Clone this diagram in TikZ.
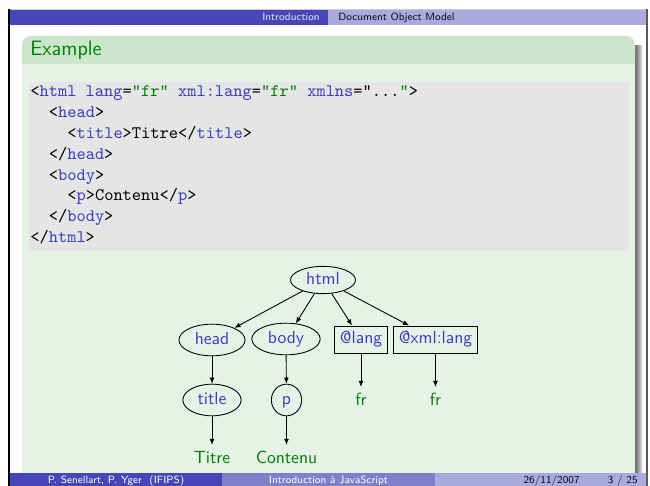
\documentclass[tikz,border=0pt]{standalone}
\usepackage{fontspec}
\usepackage{tikz}
\usetikzlibrary{
	shapes.geometric,
	arrows.meta
}
\definecolor{oscuro}{RGB}{70,70,184}
\definecolor{medio}{RGB}{127,127,204}
\definecolor{claro}{RGB}{170,170,222}
\definecolor{azul}{RGB}{60,60,190}
\definecolor{verde}{RGB}{0,128,0}
\definecolor{titbloque}{RGB}{204,230,204}
\definecolor{cuerpo}{RGB}{229,242,229}
\definecolor{gris}{RGB}{229,229,229}
\newcommand{\etq}[1]{\textcolor{azul}{#1}}
\newcommand{\valor}[1]{\textcolor{verde}{#1}}

\begin{document}
\begin{tikzpicture}[
	x = 0.5687pt, y = -0.5687pt,
	elli/.style = {ellipse, draw, line width = 0.5pt, text = azul,
		font = \fontsize{10}{12}\selectfont\sffamily,
		inner xsep = 3.5pt, inner ysep = 0pt, minimum height = 18pt,
		text height = 7pt, text depth = 2pt},
	caja/.style = {rectangle, draw, line width = 0.5pt, text = azul,
		font = \fontsize{10}{12}\selectfont\sffamily,
		inner xsep = 3pt, inner ysep = 0pt, minimum height = 15.4pt,
		text height = 7pt, text depth = 2pt},
	hoja/.style = {text = verde, font = \fontsize{10}{12}\selectfont\sffamily,
		text height = 7pt, text depth = 2pt, inner sep = 3.3pt},
	flecha/.style = {-{Latex[length = 3.5pt, width = 2.8pt]}, line width = 0.5pt},
	codigo/.style = {anchor = base west, inner sep = 0pt,
		font = \fontsize{10}{12}\selectfont\ttfamily},
	cabeza/.style = {inner sep = 0pt, font = \fontsize{6}{7}\selectfont\sffamily},
]

	% márgenes del dibujo
	\useasboundingbox (0,0) rectangle (650,486);
	\fill[white] (0,0) rectangle (650,486);
	\draw[black!20, line width = 0.5pt] (9,9.5) -- (647,9.5);
	\fill[black] (8,9) rectangle (9.6,486);
	\fill[black!65] (645.5,9) rectangle (648,486);

	% cabecera
	\fill[oscuro] (9.6,10) rectangle (328,25);
	\fill[claro] (328,10) rectangle (645.5,25);
	\node[cabeza, anchor = base east, text = white!85!oscuro] (seccion)
		at (320,20.5) {Introduction};
	\node[cabeza, anchor = base west, text = black!85!oscuro] (subseccion)
		at (338,20.5) {Document Object Model};

	% bloque de ejemplo
	\shade[left color = black!60, right color = black!12]
		(635,46) rectangle (642,486);
	\fill[cuerpo, rounded corners = 5pt] (22,36) rectangle (635,495);
	\fill[titbloque, rounded corners = 5pt] (22,36) rectangle (635,64);
	\fill[titbloque] (22,50) rectangle (635,64);
	\node[anchor = base west, inner sep = 0pt, text = verde,
		font = \fontsize{11.8}{14}\selectfont\sffamily] (ejemplo)
		at (30,55.5) {Example};

	% código
	\fill[gris] (29,82) rectangle (629,251);
	\node[codigo] (l1) at (30,96.5)
		{<\etq{html} \etq{lang}=\valor{"fr"} \etq{xml:lang}=\valor{"fr"} \etq{xmlns}="...\valor{"}>};
	\node[codigo] (l2) at (48.5,117.4) {<\etq{head}>};
	\node[codigo] (l3) at (67,138.3) {<\etq{title}>Titre</\etq{title}>};
	\node[codigo] (l4) at (48.5,159.2) {</\etq{head}>};
	\node[codigo] (l5) at (48.5,180.1) {<\etq{body}>};
	\node[codigo] (l6) at (67,201) {<\etq{p}>Contenu</\etq{p}>};
	\node[codigo] (l7) at (48.5,221.9) {</\etq{body}>};
	\node[codigo] (l8) at (30,242.8) {</\etq{html}>};

	% árbol DOM
	\node[elli, minimum height = 15.5pt] (html) at (323,280) {html};
	\node[elli] (head) at (212,340) {head};
	\node[elli] (body) at (286,339) {body};
	\node[caja] (lang) at (361,339.5) {@lang};
	\node[caja] (xmllang) at (435.5,339.5) {@xml:lang};
	\node[elli] (title) at (212,400) {title};
	\node[elli] (p) at (286.5,400) {p};
	\node[hoja] (fr1) at (361,401) {fr};
	\node[hoja] (fr2) at (435.5,401) {fr};
	\node[hoja] (titre) at (212,459) {Titre};
	\node[hoja] (contenu) at (286.5,459) {Contenu};

	\foreach \a/\b in {html/head, html/body, html/lang, html/xmllang,
		head/title, body/p, lang/fr1, xmllang/fr2,
		title/titre, p/contenu}
		\draw[flecha] (\a) -- (\b);

	% pie
	\fill[oscuro] (9.6,473) rectangle (222,486);
	\fill[medio] (222,473) rectangle (435,486);
	\fill[claro] (435,473) rectangle (645.5,486);
	\node[cabeza, anchor = base, text = white] (autor)
		at (116,483) {P. Senellart, P. Yger~~(IFIPS)};
	\node[cabeza, anchor = base, text = white] (titulo)
		at (328.5,483) {Introduction à JavaScript};
	\node[cabeza, anchor = base east, text = black!85!oscuro] (fecha)
		at (580,483) {26/11/2007};
	\node[cabeza, anchor = base east, text = black!85!oscuro] (pagina)
		at (638,483) {3 / 25};

\end{tikzpicture}
\end{document}
